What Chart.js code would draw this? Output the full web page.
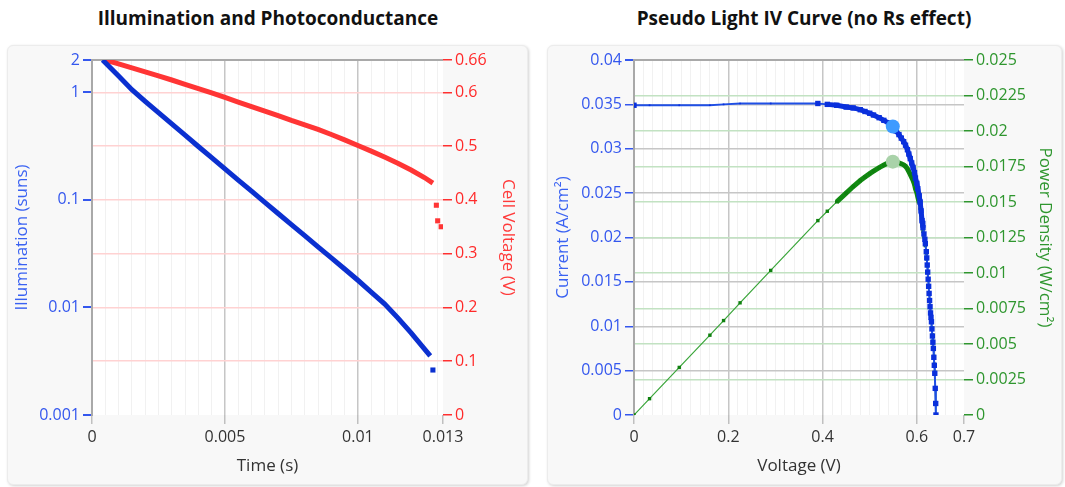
<!DOCTYPE html>
<html>
<head>
<meta charset="utf-8">
<script src="https://cdn.jsdelivr.net/npm/chart.js@4.4.1/dist/chart.umd.min.js"></script>
<style>
  body { margin: 0; width: 1065px; height: 487px; background: #fff; position: relative; overflow: hidden; font-family: "Open Sans", sans-serif; }
  .title { position: absolute; top: 5px; width: 460px; text-align: center; font-weight: bold; font-size: 19px; color: #111; }
  .panel { position: absolute; top: 45px; height: 440px; background: #f8f8f8; border: 1px solid #ececec; border-radius: 6px; box-shadow: 1px 1px 3px rgba(0,0,0,0.18); box-sizing: border-box; }
  canvas { position: absolute; top: 45px; }
</style>
</head>
<body>
<div class="title" style="left:38px">Illumination and Photoconductance</div>
<div class="title" style="left:574px">Pseudo Light IV Curve (no Rs effect)</div>
<div class="panel" style="left:7px; width:521px"></div>
<div class="panel" style="left:547px; width:515px"></div>
<canvas id="decayChart" width="521" height="440" style="left:7px"></canvas>
<canvas id="ivChart" width="515" height="440" style="left:547px"></canvas>
<script>
// ---- decay: illumination and cell voltage vs time ----
const illumTime = [0.0004, 0.001, 0.0015, 0.002, 0.0025, 0.003, 0.0035, 0.004, 0.0045, 0.005, 0.0055, 0.006, 0.0065,
  0.007, 0.0075, 0.008, 0.0085, 0.009, 0.0095, 0.01, 0.0105, 0.011, 0.0115, 0.012, 0.0125, 0.01272];
const illumSuns = [2.0, 1.42, 1.06, 0.825, 0.648, 0.509, 0.400, 0.314, 0.247, 0.194, 0.153, 0.1205, 0.095,
  0.0748, 0.059, 0.0466, 0.0366, 0.0289, 0.0228, 0.0179, 0.0139, 0.0108, 0.0080, 0.0058, 0.00412, 0.00354];
const illumTailTime = [0.01282];
const illumTailSuns = [0.00262];

const voltTime = [0.0005, 0.001, 0.0015, 0.002, 0.0025, 0.003, 0.0035, 0.004, 0.0045, 0.005, 0.0055, 0.006, 0.0065,
  0.007, 0.0075, 0.008, 0.0085, 0.009, 0.0095, 0.01, 0.0105, 0.011, 0.0115, 0.012, 0.0125, 0.01282];
const cellVolts = [0.66, 0.6527, 0.6454, 0.638, 0.6305, 0.6228, 0.6149, 0.6069, 0.5987, 0.5903, 0.5819, 0.5735, 0.565,
  0.5564, 0.5476, 0.5395, 0.531, 0.5215, 0.5115, 0.501, 0.4905, 0.4795, 0.468, 0.4555, 0.4415, 0.431];
const voltTailTime = [0.01295, 0.0130, 0.01313];
const voltTailVolts = [0.390, 0.361, 0.350];

const timeTicks = [0, 0.005, 0.01, 0.0132];
const timeTickLabels = ['0', '0.005', '0.01', '0.013'];
const sunsTicks = [0.001, 0.01, 0.1, 1, 2];
const voltTicks = [0, 0.1, 0.2, 0.3, 0.4, 0.5, 0.6, 0.66];

// ---- pseudo light IV ----
const ivVoltage = [0, 0.033, 0.096, 0.161, 0.19, 0.225, 0.29, 0.39, 0.41, 0.43, 0.45, 0.465, 0.48, 0.49, 0.50,
  0.508, 0.52, 0.53, 0.54, 0.549, 0.556, 0.562, 0.567, 0.572, 0.576, 0.58, 0.583, 0.586, 0.589, 0.592, 0.595,
  0.597, 0.600, 0.602, 0.605, 0.607, 0.609, 0.611, 0.613, 0.615, 0.617, 0.618, 0.620, 0.621, 0.622, 0.623,
  0.624, 0.625, 0.626, 0.627, 0.628, 0.629, 0.630, 0.631, 0.632, 0.633, 0.634, 0.635, 0.636, 0.637, 0.638,
  0.639, 0.640, 0.6405];
const ivCurrent = [0.0349, 0.0349, 0.0349, 0.0349, 0.0350, 0.0351, 0.0351, 0.0351, 0.0350, 0.0349, 0.0347, 0.0346,
  0.0344, 0.0342, 0.0340, 0.0338, 0.0335, 0.0332, 0.0329, 0.0325, 0.0320, 0.0316, 0.0312, 0.0308, 0.0304, 0.0299,
  0.0294, 0.0289, 0.0284, 0.0279, 0.0273, 0.0267, 0.0261, 0.0255, 0.0247, 0.0240, 0.0230, 0.0219, 0.0211, 0.0204,
  0.0198, 0.0193, 0.0184, 0.0177, 0.0169, 0.0161, 0.0153, 0.0145, 0.0137, 0.0129, 0.0122, 0.0115, 0.0110, 0.0105,
  0.0097, 0.0089, 0.0082, 0.0075, 0.0065, 0.0056, 0.0047, 0.0030, 0.0013, 0];
const ivPower = [0, 0.00115, 0.00335, 0.00562, 0.00665, 0.0079, 0.01018, 0.01369, 0.01435, 0.01501, 0.01562,
  0.01609, 0.01651, 0.01676, 0.0170, 0.01717, 0.01742, 0.0176, 0.01777, 0.01784, 0.01779, 0.01776, 0.01769,
  0.01762, 0.01751, 0.01734, 0.01714, 0.01694, 0.01673, 0.01652, 0.01624, 0.01594, 0.01566, 0.01535, 0.01494,
  0.01457, 0.01401, 0.01338, 0.01293, 0.01255, 0.01222, 0.01193, 0.01141, 0.01099, 0.01051, 0.01003, 0.00955,
  0.00906, 0.00858, 0.00809, 0.00766, 0.00723, 0.00693, 0.00663, 0.00613, 0.00563, 0.0052, 0.00476, 0.00413,
  0.00357, 0.003, 0.00192, 0.00083, 0];
const mppVoltage = [0.549];
const mppCurrent = [0.0325];
const mppPower = [0.01784];

const vTicks = [0, 0.2, 0.4, 0.6, 0.7];
const currentTicks = [0, 0.005, 0.01, 0.015, 0.02, 0.025, 0.03, 0.035, 0.04];
const powerTicks = [0, 0.0025, 0.005, 0.0075, 0.01, 0.0125, 0.015, 0.0175, 0.02, 0.0225, 0.025];

Chart.defaults.font.family = '"Open Sans", sans-serif';
Chart.defaults.font.size = 16;
Chart.defaults.animation = false;
Chart.defaults.plugins.legend.display = false;
Chart.defaults.plugins.tooltip.enabled = false;

const GRID_MAJOR = '#c6c6c6';
const GRID_MINOR = '#f1f1f1';
const FRAME = '#a9a9a9';
const TITLE_FONT = { size: 17 };

const pts = (xs, ys) => xs.map((x, i) => ({ x, y: ys[i] }));
const near = (a, b) => Math.abs(a - b) < 1e-9;
const isIn = (list, v) => list.some(m => near(m, v));
const fmt = v => String(+v.toFixed(5));
const fixedTicks = list => scale => { scale.ticks = list.map(value => ({ value })); };

// labelled ticks plus the unlabelled minor steps that carry the faint grid
function withMinor(major, step, max) {
  const vals = major.slice();
  for (let i = 0; i * step <= max + 1e-12; i++) {
    const v = +(i * step).toFixed(6);
    if (!isIn(vals, v)) vals.push(v);
  }
  return vals.sort((a, b) => a - b).map(value => ({ value }));
}

// white plot area on the grey panel
const plotBackground = {
  id: 'plotBackground',
  beforeDraw(chart) {
    const { ctx, chartArea: a } = chart;
    ctx.save();
    ctx.fillStyle = '#fff';
    ctx.fillRect(a.left, a.top, a.right - a.left, a.bottom - a.top);
    ctx.restore();
  }
};

new Chart(document.getElementById('decayChart'), {
  type: 'scatter',
  plugins: [plotBackground],
  data: {
    datasets: [
      { data: pts(illumTime, illumSuns), yAxisID: 'yS', showLine: true, borderColor: '#0b30d0', borderWidth: 5, pointRadius: 0, order: 1 },
      { data: pts(illumTailTime, illumTailSuns), yAxisID: 'yS', pointStyle: 'rect', pointRadius: 3.6, backgroundColor: '#0b30d0', borderWidth: 0, order: 1 },
      { data: pts(voltTime, cellVolts), yAxisID: 'yV', showLine: true, borderColor: '#ff3535', borderWidth: 5, pointRadius: 0, order: 2 },
      { data: pts(voltTailTime, voltTailVolts), yAxisID: 'yV', pointStyle: 'rect', pointRadius: 3.6, backgroundColor: '#ff3535', borderWidth: 0, order: 2 }
    ]
  },
  options: {
    responsive: false,
    layout: { padding: { top: 15, left: 0, right: 0, bottom: 0 } },
    scales: {
      x: {
        type: 'linear', min: 0, max: 0.0132,
        afterBuildTicks: s => { s.ticks = withMinor(timeTicks, 0.0005, 0.0132); },
        afterFit: s => { s.height = 70; },
        ticks: {
          autoSkip: false, maxRotation: 0, color: '#333', padding: 4,
          callback: v => { const i = timeTicks.findIndex(m => near(m, v)); return i < 0 ? '' : timeTickLabels[i]; }
        },
        grid: {
          color: c => near(c.tick.value, 0.0132) ? 'transparent' : (isIn(timeTicks, c.tick.value) ? GRID_MAJOR : GRID_MINOR),
          lineWidth: c => isIn(timeTicks, c.tick.value) ? 1.5 : 1,
          tickColor: c => isIn(timeTicks, c.tick.value) ? '#c0c0c0' : 'transparent',
          tickLength: 9
        },
        border: { display: false },
        title: { display: true, text: 'Time (s)', color: '#333', font: TITLE_FONT, padding: { top: 0, bottom: 9 } }
      },
      yS: {
        type: 'logarithmic', position: 'left', min: 0.001, max: 2,
        afterBuildTicks: fixedTicks(sunsTicks),
        afterFit: s => { s.width = 85; },
        ticks: { autoSkip: false, color: '#3457ee', padding: 3, callback: v => fmt(v) },
        grid: {
          color: c => near(c.tick.value, 2) ? FRAME : 'transparent',
          lineWidth: 2, tickColor: '#3457ee', tickLength: 9
        },
        border: { display: true, color: FRAME, width: 2 },
        title: { display: true, text: 'Illumination (suns)', color: '#3a62f2', font: TITLE_FONT, padding: { top: 5, bottom: 0 } }
      },
      yV: {
        type: 'linear', position: 'right', min: 0, max: 0.66,
        afterBuildTicks: fixedTicks(voltTicks),
        afterFit: s => { s.width = 85; },
        ticks: { autoSkip: false, color: '#ff2a2a', padding: 3, callback: v => fmt(v) },
        grid: {
          color: c => (c.tick.value > 0.01 && c.tick.value < 0.65) ? '#ffd2d2' : 'transparent',
          lineWidth: 1.5, tickColor: '#ff3030', tickLength: 9
        },
        border: { display: false },
        title: { display: true, text: 'Cell Voltage (V)', color: '#ff3a3a', font: TITLE_FONT, padding: { top: 10, bottom: 0 } }
      }
    }
  }
});

// thick where the sweep points crowd together, thin with separate markers elsewhere
const dense = (lo, hi) => c => c.p0.parsed.x >= lo && c.p0.parsed.x < hi;

new Chart(document.getElementById('ivChart'), {
  type: 'scatter',
  plugins: [plotBackground],
  data: {
    datasets: [
      { data: pts(mppVoltage, mppCurrent), yAxisID: 'yI', pointRadius: 7, backgroundColor: '#3d9bff', borderWidth: 0, order: 0 },
      { data: pts(mppVoltage, mppPower), yAxisID: 'yP', pointRadius: 7, backgroundColor: '#a9d2a9', borderWidth: 0, order: 0 },
      {
        data: pts(ivVoltage, ivCurrent), yAxisID: 'yI', showLine: true, order: 1,
        borderColor: '#1f4fe6', borderWidth: 2, pointStyle: 'rect',
        pointRadius: c => c.parsed.x < 0.385 && c.parsed.x > 0.001 ? 1.2 : 3.8,
        backgroundColor: '#0a30dc', pointBorderWidth: 0,
        segment: {
          borderWidth: c => dense(0.41, 0.612)(c) ? 5 : 2,
          borderColor: c => dense(0.41, 0.612)(c) ? '#0a30dc' : '#1f4fe6'
        }
      },
      {
        data: pts(ivVoltage, ivPower), yAxisID: 'yP', showLine: true, order: 2,
        borderColor: '#3aa53a', borderWidth: 1.2, pointStyle: 'rect', pointRadius: 2.4,
        backgroundColor: '#0f800f', pointBorderWidth: 0,
        segment: {
          borderWidth: c => dense(0.425, 0.605)(c) ? 5 : 1.2,
          borderColor: c => dense(0.425, 0.605)(c) ? '#118a11' : '#3aa53a'
        }
      }
    ]
  },
  options: {
    responsive: false,
    layout: { padding: { top: 15, left: 0, right: 0, bottom: 0 } },
    scales: {
      x: {
        type: 'linear', min: 0, max: 0.7,
        afterBuildTicks: s => { s.ticks = withMinor(vTicks, 0.02, 0.7); },
        afterFit: s => { s.height = 70; },
        ticks: {
          autoSkip: false, maxRotation: 0, color: '#333', padding: 4,
          callback: v => isIn(vTicks, v) ? fmt(v) : ''
        },
        grid: {
          color: c => near(c.tick.value, 0.7) ? 'transparent' : (isIn(vTicks, c.tick.value) ? GRID_MAJOR : GRID_MINOR),
          lineWidth: c => isIn(vTicks, c.tick.value) ? 1.5 : 1,
          tickColor: c => isIn(vTicks, c.tick.value) ? '#c0c0c0' : 'transparent',
          tickLength: 9
        },
        border: { display: false },
        title: { display: true, text: 'Voltage (V)', color: '#333', font: TITLE_FONT, padding: { top: 0, bottom: 9 } }
      },
      yI: {
        type: 'linear', position: 'left', min: 0, max: 0.04,
        afterBuildTicks: fixedTicks(currentTicks),
        afterFit: s => { s.width = 87; },
        ticks: { autoSkip: false, color: '#3457ee', padding: 3, callback: v => fmt(v) },
        grid: {
          color: c => near(c.tick.value, 0.04) ? FRAME : (c.tick.value > 0.001 ? GRID_MAJOR : 'transparent'),
          lineWidth: c => near(c.tick.value, 0.04) ? 2 : 1.5,
          tickColor: '#3457ee', tickLength: 9
        },
        border: { display: true, color: FRAME, width: 2 },
        title: { display: true, text: 'Current (A/cm²)', color: '#3a62f2', font: TITLE_FONT, padding: { top: 6, bottom: 0 } }
      },
      yP: {
        type: 'linear', position: 'right', min: 0, max: 0.025,
        afterBuildTicks: fixedTicks(powerTicks),
        afterFit: s => { s.width = 98; },
        ticks: { autoSkip: false, color: '#2e962e', padding: 3, callback: v => fmt(v) },
        grid: {
          color: c => (c.tick.value > 0.001 && c.tick.value < 0.024) ? '#c2e2c2' : 'transparent',
          lineWidth: 1.5, tickColor: '#2e962e', tickLength: 9
        },
        border: { display: false },
        title: { display: true, text: 'Power Density (W/cm²)', color: '#2e962e', font: TITLE_FONT, padding: { top: 7, bottom: 0 } }
      }
    }
  }
});
</script>
</body>
</html>
